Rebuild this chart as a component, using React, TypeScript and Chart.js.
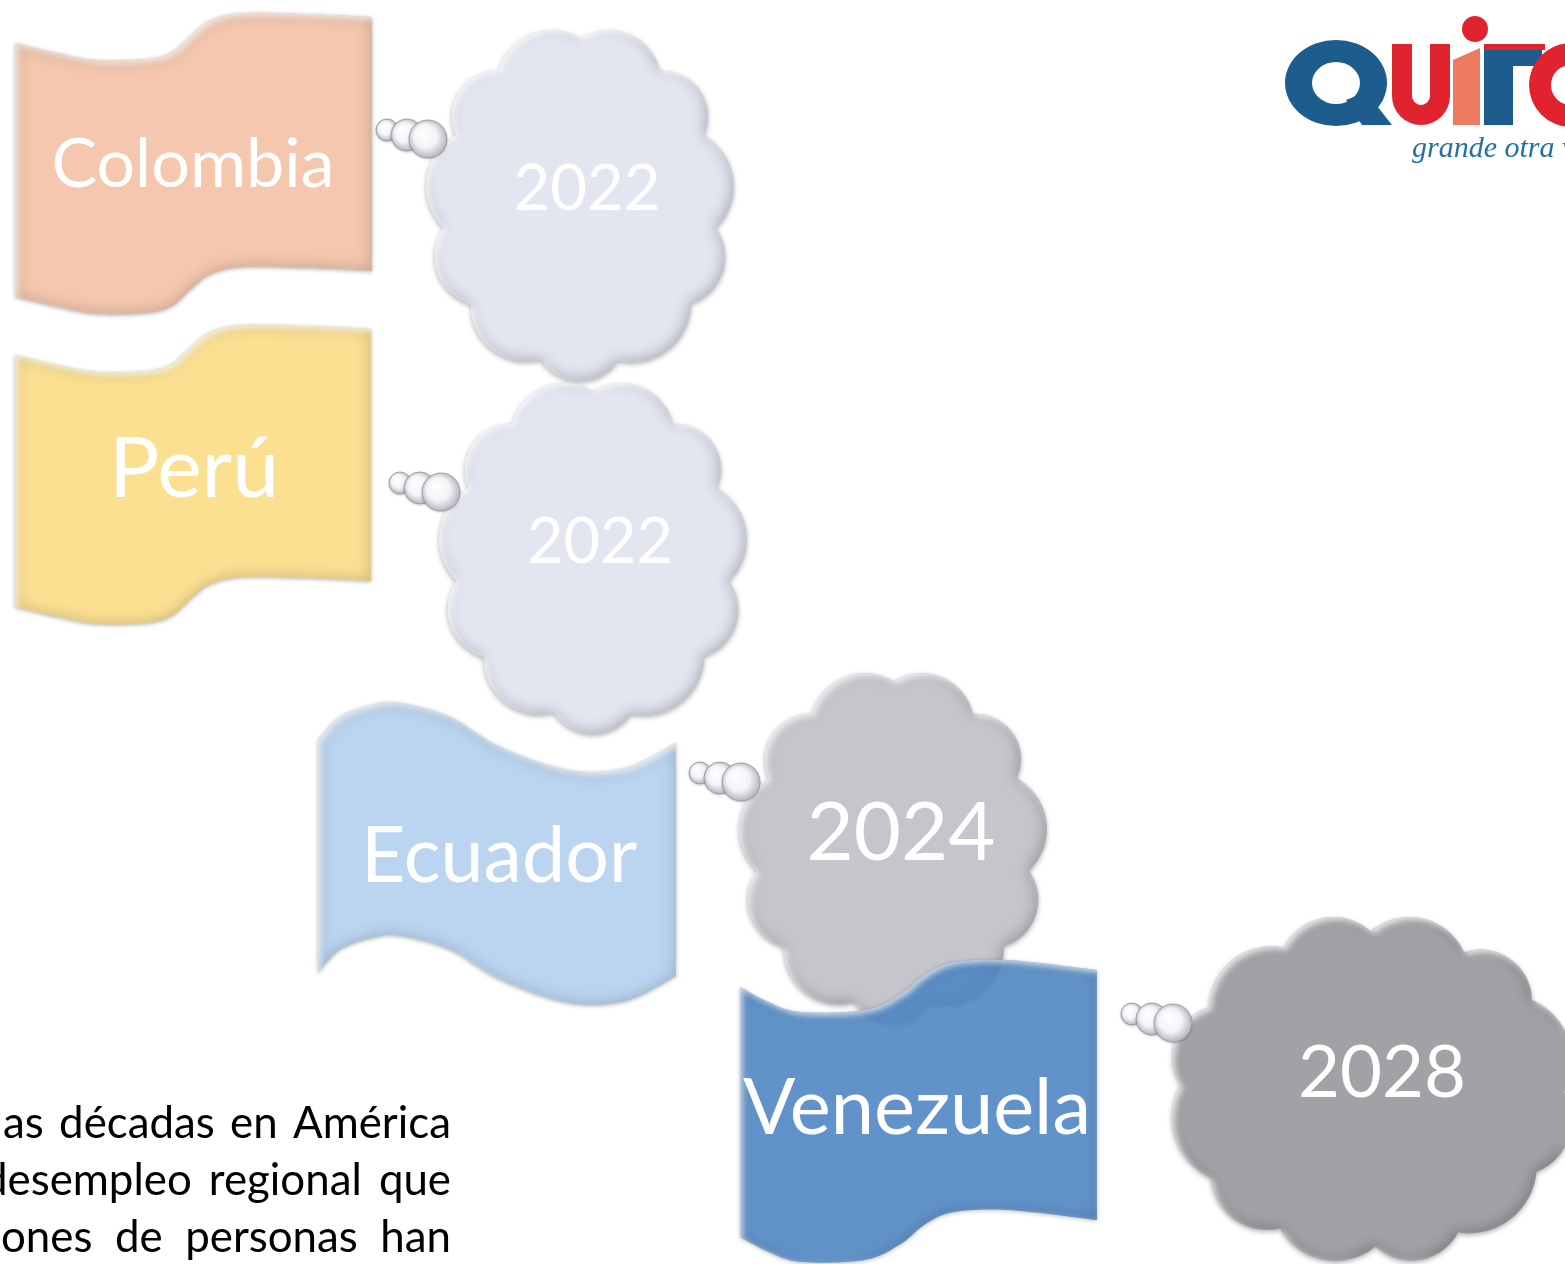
import React, { useEffect, useRef } from 'react';
import { Chart, registerables } from 'chart.js';

Chart.register(...registerables);

// ---------------- data ----------------
const countries = ['Colombia', 'Perú', 'Ecuador', 'Venezuela'];
const years = [2022, 2022, 2024, 2028];
const paragraphLines = [
  ['as', 'décadas', 'en', 'América'],
  ['desempleo', 'regional', 'que'],
  ['ones', 'de', 'personas', 'han'],
];
const logoWord = 'grande otra vez';

// ---------------- layout (stage units, 1565 x 1264) ----------------
const STAGE_W = 1565;
const STAGE_H = 1264;
const flagLeft = [15, 15, 318, 740];
const flagTop = [13, 325, 703, 960];
const flagWidth = [357, 356, 358, 357];
const flagDepth = [254, 252, 233, 250];
const flagWaveKind = ['step', 'step', 'sine', 'soft'];
const flagLabelX = [193, 194, 499, 917];
const flagLabelBaseline = [187, 497, 882, 1134];
const flagLabelWidth = [283, 170, 276, 348];

const cloudCenterX = [580, 593, 893, 1372];
const cloudCenterY = [203, 556, 846, 1089];
const cloudHalfW = [155, 155, 155, 205];
const cloudHalfH = [178, 178, 178, 176];
const cloudLabelX = [587, 600, 901, 1382];
const cloudLabelBaseline = [210, 563, 860, 1097];
const cloudLabelWidth = [147, 146, 189, 168];

const paragraphStartX = [3, -17, 1];
const paragraphEndX = 451;
const paragraphBaseline = [1138, 1195, 1252];
const paragraphRefWord = 'América';
const paragraphRefWidth = 158;

// ---------------- styles ----------------
const flagColors = ['#F4C7AE', '#FCE092', '#BBD5F1', 'rgba(82,140,204,0.86)'];
const cloudColors = ['#E3E5F0', '#E3E5F0', '#C7C5CC', '#A3A0A6'];
const FONT = 'Lato, "Open Sans", sans-serif';

const waves: Record<string, number[][]> = {
  step: [[0, 30], [0.12, 40], [0.23, 47], [0.37, 46], [0.44, 39], [0.5, 20], [0.55, 7], [0.64, 0], [0.82, 1], [1, 4]],
  sine: [[0, 37], [0.06, 14], [0.15, 2], [0.23, 0], [0.37, 14], [0.51, 44], [0.7, 67], [0.86, 65], [1, 40]],
  soft: [[0, 27], [0.08, 42], [0.17, 52], [0.35, 50], [0.45, 34], [0.52, 14], [0.6, 2], [0.75, 0], [1, 10]],
};
const lobeVar = [1.0, 0.86, 1.1, 0.93, 1.14, 0.88, 1.05, 0.95, 1.12, 0.87, 1.04, 0.94];

// ---------------- drawing helpers ----------------
function spline(ctx: CanvasRenderingContext2D, P: number[][], move: boolean) {
  if (move) ctx.moveTo(P[0][0], P[0][1]);
  else ctx.lineTo(P[0][0], P[0][1]);
  for (let i = 0; i < P.length - 1; i++) {
    const p0 = P[i - 1] || P[i];
    const p1 = P[i];
    const p2 = P[i + 1];
    const p3 = P[i + 2] || P[i + 1];
    ctx.bezierCurveTo(
      p1[0] + (p2[0] - p0[0]) / 6, p1[1] + (p2[1] - p0[1]) / 6,
      p2[0] - (p3[0] - p1[0]) / 6, p2[1] - (p3[1] - p1[1]) / 6,
      p2[0], p2[1]
    );
  }
}

function flagPath(ctx: CanvasRenderingContext2D, wave: number[][], x0: number, y0: number, w: number, h: number) {
  const top = wave.map(([u, d]) => [x0 + u * w, y0 + d]);
  const bot = wave.map(([u, d]) => [x0 + u * w, y0 + d + h]).reverse();
  ctx.beginPath();
  spline(ctx, top, true);
  spline(ctx, bot, false);
  ctx.closePath();
}

function cloudPath(ctx: CanvasRenderingContext2D, cx: number, cy: number, a: number, b: number) {
  const n = a > b ? 12 : 11;
  const base = 0.34 * Math.min(a, b);
  const phase = Math.PI / n;
  ctx.beginPath();
  for (let k = 0; k < n; k++) {
    const th = -Math.PI / 2 + phase + (2 * Math.PI * k) / n;
    const r = base * lobeVar[k % lobeVar.length];
    const lx = cx + (a - r) * Math.cos(th);
    const ly = cy + (b - r) * Math.sin(th);
    ctx.moveTo(lx + r, ly);
    ctx.arc(lx, ly, r, 0, Math.PI * 2);
  }
  ctx.moveTo(cx + a - base * 0.9, cy);
  ctx.ellipse(cx, cy, a - base * 0.9, b - base * 0.9, 0, 0, Math.PI * 2);
}

let offCanvas: HTMLCanvasElement | null = null;
function innerShadow(
  ctx: CanvasRenderingContext2D,
  build: (c: CanvasRenderingContext2D) => void,
  color: string, blur: number, ox: number, oy: number
) {
  const W = ctx.canvas.width;
  const H = ctx.canvas.height;
  if (!offCanvas) offCanvas = document.createElement('canvas');
  offCanvas.width = W;
  offCanvas.height = H;
  const o = offCanvas.getContext('2d')!;
  o.fillStyle = '#000';
  o.fillRect(0, 0, W, H);
  o.globalCompositeOperation = 'destination-out';
  build(o);
  o.fill();
  o.globalCompositeOperation = 'source-over';
  ctx.save();
  build(ctx);
  ctx.clip();
  const shift = W + 100;
  ctx.shadowColor = color;
  ctx.shadowBlur = blur;
  ctx.shadowOffsetX = shift + ox;
  ctx.shadowOffsetY = oy;
  ctx.drawImage(offCanvas, -shift, 0);
  ctx.restore();
}

function fitSize(ctx: CanvasRenderingContext2D, text: string, width: number, weight = '400') {
  ctx.font = `${weight} 100px ${FONT}`;
  const w = ctx.measureText(text).width;
  return (100 * width) / w;
}

function drawBubble(ctx: CanvasRenderingContext2D, x: number, y: number, r: number) {
  ctx.save();
  ctx.shadowColor = 'rgba(0,0,0,0.25)';
  ctx.shadowBlur = 3;
  ctx.shadowOffsetY = 1;
  const g = ctx.createRadialGradient(x - r * 0.35, y - r * 0.35, 0, x, y, r * 1.1);
  g.addColorStop(0, '#ffffff');
  g.addColorStop(0.55, 'rgba(246,246,250,0.97)');
  g.addColorStop(1, 'rgba(170,170,180,0.97)');
  ctx.beginPath();
  ctx.arc(x, y, r, 0, Math.PI * 2);
  ctx.fillStyle = g;
  ctx.fill();
  ctx.restore();
  ctx.beginPath();
  ctx.arc(x, y, r, 0, Math.PI * 2);
  ctx.strokeStyle = 'rgba(140,140,150,0.7)';
  ctx.lineWidth = 1;
  ctx.stroke();
}

function drawLogo(ctx: CanvasRenderingContext2D) {
  const blue = '#1C5D8D';
  const red = '#E0232E';
  const salmon = '#EE7A60';
  // Q
  ctx.beginPath();
  ctx.ellipse(1336, 83, 51, 43, 0, 0, Math.PI * 2);
  ctx.moveTo(1360, 83);
  ctx.ellipse(1336, 83, 24, 21, 0, 0, Math.PI * 2);
  ctx.fillStyle = blue;
  ctx.fill('evenodd');
  ctx.beginPath();
  ctx.moveTo(1346, 100);
  ctx.lineTo(1366, 92);
  ctx.lineTo(1392, 125);
  ctx.lineTo(1362, 125);
  ctx.closePath();
  ctx.fill();
  // U
  ctx.beginPath();
  ctx.moveTo(1392, 44);
  ctx.lineTo(1412, 44);
  ctx.lineTo(1412, 96);
  ctx.arc(1421, 96, 9, Math.PI, 0, true);
  ctx.lineTo(1430, 44);
  ctx.lineTo(1450, 44);
  ctx.lineTo(1450, 96);
  ctx.arc(1421, 96, 29, 0, Math.PI, false);
  ctx.closePath();
  ctx.fillStyle = red;
  ctx.fill();
  // i
  ctx.beginPath();
  ctx.moveTo(1453, 60);
  ctx.lineTo(1480, 48);
  ctx.lineTo(1480, 125);
  ctx.lineTo(1453, 125);
  ctx.closePath();
  ctx.fillStyle = salmon;
  ctx.fill();
  ctx.beginPath();
  ctx.arc(1475, 29, 13, 0, Math.PI * 2);
  ctx.fillStyle = red;
  ctx.fill();
  // T
  ctx.fillStyle = red;
  ctx.beginPath();
  ctx.moveTo(1484, 44);
  ctx.lineTo(1545, 44);
  ctx.lineTo(1545, 50);
  ctx.lineTo(1484, 50);
  ctx.closePath();
  ctx.fill();
  ctx.fillStyle = blue;
  ctx.fillRect(1484, 50, 58, 16);
  ctx.fillRect(1484, 50, 29, 75);
  // O / C
  ctx.beginPath();
  ctx.arc(1571, 85, 42, 0, Math.PI * 2);
  ctx.moveTo(1591, 85);
  ctx.arc(1571, 85, 20, 0, Math.PI * 2);
  ctx.fillStyle = red;
  ctx.fill('evenodd');
  // script
  ctx.save();
  ctx.fillStyle = '#2470A0';
  ctx.font = 'italic 30px "Liberation Serif", "DejaVu Serif", serif';
  ctx.textAlign = 'left';
  ctx.textBaseline = 'alphabetic';
  ctx.fillText(logoWord, 1412, 157);
  ctx.restore();
}

const infographicPlugin = {
  id: 'infographic',
  afterDatasetsDraw(chart: any) {
    const ctx: CanvasRenderingContext2D = chart.ctx;
    const xs = chart.scales.x;
    const ys = chart.scales.y;
    const S = (xs.getPixelForValue(100) - xs.getPixelForValue(0)) / 100;
    const flagMeta = chart.getDatasetMeta(0).data;
    const cloudMeta = chart.getDatasetMeta(1).data;

    for (let i = 0; i < countries.length; i++) {
      // flag
      const fx = flagMeta[i].x;
      const fy = flagMeta[i].y;
      const fw = flagWidth[i] * S;
      const fh = flagDepth[i] * S;
      const wave = waves[flagWaveKind[i]];
      const build = (c: CanvasRenderingContext2D) => flagPath(c, wave, fx, fy, fw, fh);
      ctx.save();
      ctx.shadowColor = 'rgba(0,0,0,0.3)';
      ctx.shadowBlur = 4;
      ctx.shadowOffsetY = 1;
      build(ctx);
      ctx.fillStyle = flagColors[i];
      ctx.fill();
      ctx.restore();
      innerShadow(ctx, build, 'rgba(0,0,0,0.22)', 16, 0, 0);
      innerShadow(ctx, build, 'rgba(255,255,255,0.7)', 6, 3, 3);

      // flag label
      ctx.save();
      ctx.fillStyle = '#ffffff';
      ctx.textAlign = 'center';
      ctx.textBaseline = 'alphabetic';
      const fs = fitSize(ctx, countries[i], flagLabelWidth[i] * S);
      ctx.font = `400 ${fs}px ${FONT}`;
      ctx.fillText(countries[i], xs.getPixelForValue(flagLabelX[i]), ys.getPixelForValue(flagLabelBaseline[i]));
      ctx.restore();

      // cloud
      const cx = cloudMeta[i].x;
      const cy = cloudMeta[i].y;
      const a = cloudHalfW[i] * S;
      const b = cloudHalfH[i] * S;
      const cbuild = (c: CanvasRenderingContext2D) => cloudPath(c, cx, cy, a, b);
      ctx.save();
      ctx.shadowColor = 'rgba(0,0,0,0.3)';
      ctx.shadowBlur = 5;
      ctx.shadowOffsetY = 2;
      cbuild(ctx);
      ctx.fillStyle = cloudColors[i];
      ctx.fill();
      ctx.restore();
      innerShadow(ctx, cbuild, 'rgba(0,0,0,0.25)', 14, -2, -2);
      innerShadow(ctx, cbuild, 'rgba(255,255,255,0.8)', 6, 3, 3);

      // thought bubbles
      const L = cloudMeta[i].x - (i === 3 ? 202 : 155) * S;
      const T = cloudMeta[i].y - (i === 3 ? 180 : 178) * S;
      drawBubble(ctx, L - 38 * S, T + 105 * S, 11 * S);
      drawBubble(ctx, L - 18 * S, T + 110 * S, 16 * S);
      drawBubble(ctx, L + 3 * S, T + 114 * S, 19 * S);

      // year label
      ctx.save();
      ctx.fillStyle = '#ffffff';
      ctx.textAlign = 'center';
      ctx.textBaseline = 'alphabetic';
      const ys2 = fitSize(ctx, String(years[i]), cloudLabelWidth[i] * S);
      ctx.font = `400 ${ys2}px ${FONT}`;
      ctx.fillText(String(years[i]), xs.getPixelForValue(cloudLabelX[i]), ys.getPixelForValue(cloudLabelBaseline[i]));
      ctx.restore();
    }

    // paragraph fragment (justified)
    ctx.save();
    const ps = fitSize(ctx, paragraphRefWord, paragraphRefWidth * S);
    ctx.font = `400 ${ps}px ${FONT}`;
    ctx.fillStyle = '#000000';
    ctx.textAlign = 'left';
    ctx.textBaseline = 'alphabetic';
    paragraphLines.forEach((words, li) => {
      const start = xs.getPixelForValue(paragraphStartX[li]);
      const end = xs.getPixelForValue(paragraphEndX);
      const widths = words.map((w) => ctx.measureText(w).width);
      const total = widths.reduce((s, v) => s + v, 0);
      const gap = (end - start - total) / (words.length - 1);
      let x = start;
      const y = ys.getPixelForValue(paragraphBaseline[li]);
      words.forEach((w, wi) => {
        ctx.fillText(w, x, y);
        x += widths[wi] + gap;
      });
    });
    ctx.restore();

    // logo
    ctx.save();
    ctx.translate(xs.getPixelForValue(0), ys.getPixelForValue(0));
    ctx.scale(S, S);
    drawLogo(ctx);
    ctx.restore();
  },
};

export default function App() {
  const canvasRef = useRef<HTMLCanvasElement | null>(null);

  useEffect(() => {
    const canvas = canvasRef.current;
    if (!canvas) return;
    const chart = new Chart(canvas, {
      type: 'scatter',
      data: {
        datasets: [
          {
            label: 'Países',
            data: countries.map((_, i) => ({ x: flagLeft[i], y: flagTop[i] })),
            pointRadius: 0,
            pointHoverRadius: 0,
          },
          {
            label: 'Año',
            data: years.map((_, i) => ({ x: cloudCenterX[i], y: cloudCenterY[i] })),
            pointRadius: 0,
            pointHoverRadius: 0,
          },
        ],
      },
      options: {
        animation: false,
        responsive: false,
        devicePixelRatio: 1,
        events: [],
        layout: { padding: 0 },
        plugins: {
          legend: { display: false },
          tooltip: { enabled: false },
        },
        scales: {
          x: { type: 'linear', min: 0, max: STAGE_W, display: false },
          y: { type: 'linear', min: 0, max: STAGE_H, reverse: true, display: false },
        },
      },
      plugins: [infographicPlugin],
    } as any);
    return () => chart.destroy();
  }, []);

  return (
    <div style={{ position: 'absolute', left: 0, top: 0, width: STAGE_W, height: STAGE_H, background: '#ffffff' }}>
      <canvas ref={canvasRef} width={STAGE_W} height={STAGE_H} style={{ display: 'block' }} />
    </div>
  );
}
